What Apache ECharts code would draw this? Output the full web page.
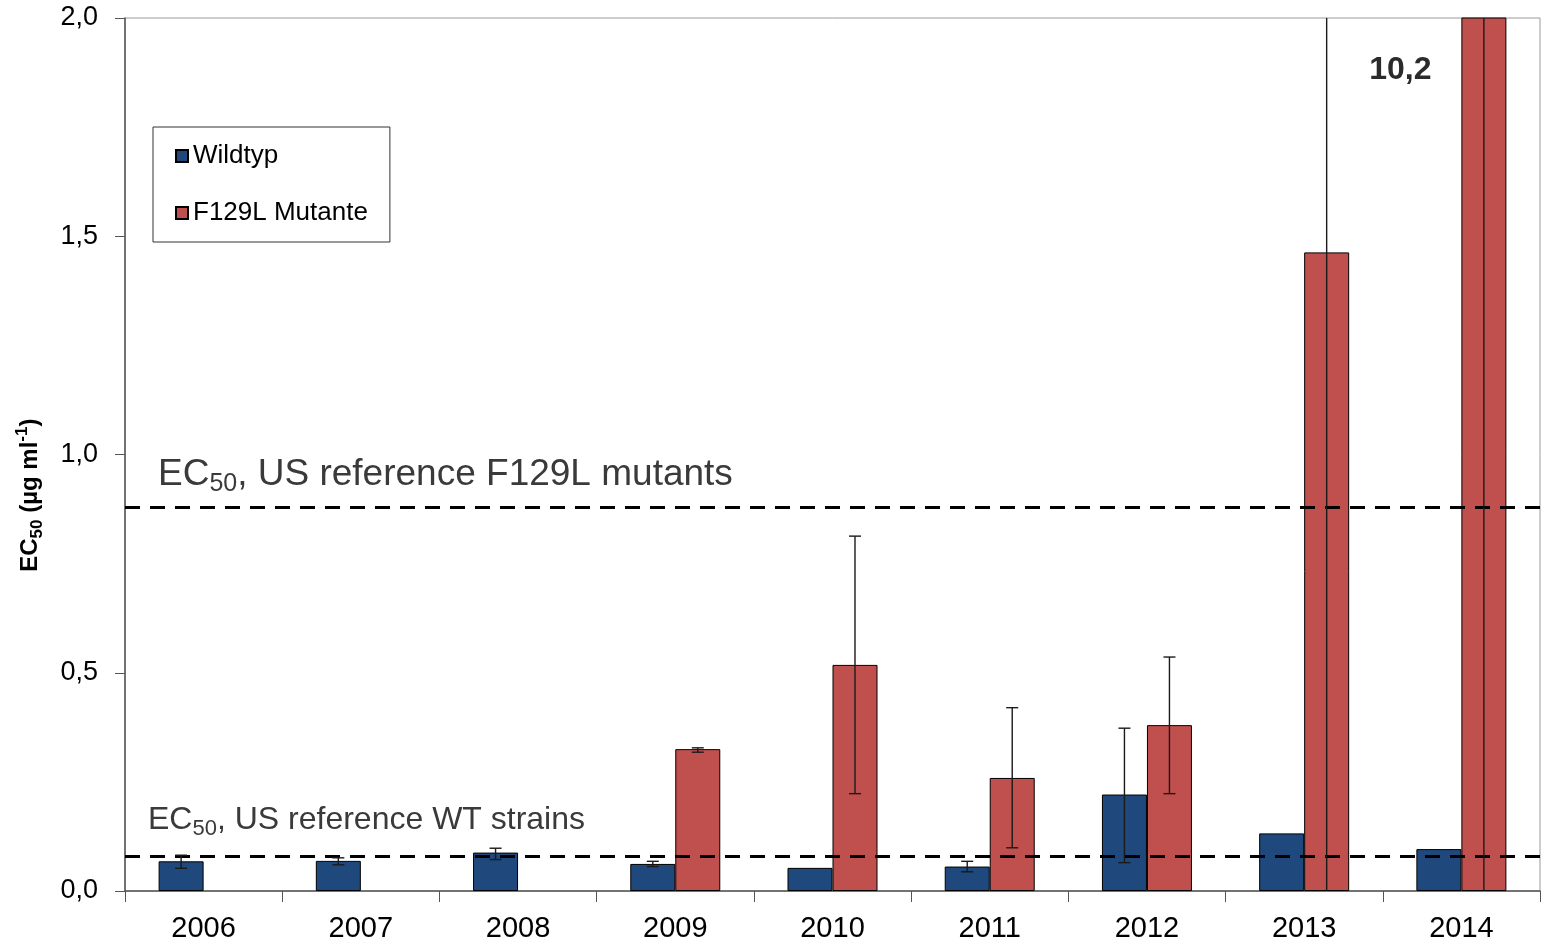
<!DOCTYPE html>
<html>
<head>
<meta charset="utf-8">
<script src="https://cdn.jsdelivr.net/npm/echarts@6/dist/echarts.min.js"></script>
<style>
html,body{margin:0;padding:0;background:#fff;}
#chart{width:1545px;height:941px;}
</style>
</head>
<body>
<div id="chart"></div>
<script>
// ---- data ----
var years = ['2006','2007','2008','2009','2010','2011','2012','2013','2014'];
var wildtyp = [0.068, 0.069, 0.088, 0.062, 0.053, 0.056, 0.221, 0.132, 0.096];
var wildtypLow = [0.052, 0.060, 0.072, 0.056, null, 0.044, 0.065, null, null];
var wildtypHigh = [0.082, 0.076, 0.098, 0.068, null, 0.068, 0.373, null, null];
var mutante = [null, null, null, 0.325, 0.518, 0.259, 0.380, 1.463, 10.2];
var mutanteLow = [null, null, null, 0.318, 0.223, 0.099, 0.223, -1.2, -0.1];
var mutanteHigh = [null, null, null, 0.328, 0.813, 0.420, 0.536, 4.1, 20.3];
var refMutant = 0.88;
var refWT = 0.078;
var yTicks = [0, 0.5, 1.0, 1.5, 2.0];
var bigLabel = '10,2';

var BAR_W = 45;
var chart = echarts.init(document.getElementById('chart'));

function errSeries(name, low, high, offset) {
  var data = [];
  for (var i = 0; i < years.length; i++) {
    if (low[i] != null) data.push([i, low[i], high[i]]);
  }
  return {
    type: 'custom',
    name: name,
    silent: true,
    clip: true,
    z: 5,
    data: data,
    encode: {x: 0, y: [1, 2]},
    renderItem: function (params, api) {
      var i = api.value(0);
      var lo = api.coord([i, api.value(1)]);
      var hi = api.coord([i, api.value(2)]);
      var x = lo[0] + offset;
      var cap = 6;
      var st = {stroke: '#1a1a1a', lineWidth: 1.4};
      return {
        type: 'group',
        children: [
          {type: 'line', shape: {x1: x, y1: lo[1], x2: x, y2: hi[1]}, style: st},
          {type: 'line', shape: {x1: x - cap, y1: lo[1], x2: x + cap, y2: lo[1]}, style: st},
          {type: 'line', shape: {x1: x - cap, y1: hi[1], x2: x + cap, y2: hi[1]}, style: st}
        ]
      };
    }
  };
}

var option = {
  animation: false,
  backgroundColor: '#fff',
  grid: {left: 125, right: 5, top: 18, bottom: 50, show: true, borderColor: '#9a9a9a', borderWidth: 1, outerBoundsMode: 'none', containLabel: false},
  legend: {
    orient: 'vertical',
    left: 153,
    top: 127,
    padding: [16, 22, 16, 22],
    itemGap: 31,
    itemWidth: 12,
    itemHeight: 12,
    borderColor: '#333',
    borderWidth: 1,
    icon: 'rect',
    textStyle: {fontFamily: 'Liberation Sans, Arial, sans-serif', fontSize: 26, color: '#000'},
    data: ['Wildtyp', 'F129L Mutante']
  },
  xAxis: {
    type: 'category',
    data: years,
    boundaryGap: true,
    axisLine: {lineStyle: {color: '#555', width: 1.5}},
    axisTick: {show: true, length: 11, lineStyle: {color: '#555'}},
    axisLabel: {fontFamily: 'Liberation Sans, Arial, sans-serif', fontSize: 29, color: '#000', margin: 23},
    splitLine: {show: false}
  },
  yAxis: {
    type: 'value',
    min: 0,
    max: 2,
    interval: 0.5,
    axisLine: {show: true, lineStyle: {color: '#555', width: 1.5}},
    axisTick: {show: true, length: 10, lineStyle: {color: '#555'}},
    axisLabel: {
      fontFamily: 'Liberation Sans, Arial, sans-serif', fontSize: 27, color: '#000', margin: 27,
      formatter: function (v) {
        for (var k = 0; k < yTicks.length; k++) {
          if (Math.abs(yTicks[k] - v) < 1e-9) return yTicks[k].toFixed(1).replace('.', ',');
        }
        return '';
      }
    },
    splitLine: {show: false}
  },
  series: [
    {
      name: 'Wildtyp',
      type: 'bar',
      data: wildtyp,
      barWidth: BAR_W,
      barGap: '0%',
      itemStyle: {color: '#1F497D', borderColor: '#000', borderWidth: 1},
      markLine: {
        silent: true,
        symbol: ['none', 'none'],
        lineStyle: {color: '#000', width: 3, type: [15, 10]},
        label: {
          show: true,
          position: 'insideStartTop',
          fontFamily: 'Liberation Sans, Arial, sans-serif'
        },
        data: [
          {
            yAxis: refMutant,
            label: {
              distance: [33, 10],
              formatter: '{a|EC}{s|50}{a|, US reference F129L mutants}',
              rich: {
                a: {fontSize: 37, color: '#3a3a3a', lineHeight: 44, verticalAlign: 'middle', fontFamily: 'Liberation Sans, Arial, sans-serif'},
                s: {fontSize: 25, color: '#3a3a3a', lineHeight: 24, verticalAlign: 'bottom', fontFamily: 'Liberation Sans, Arial, sans-serif'}
              }
            }
          },
          {
            yAxis: refWT,
            label: {
              distance: [23, 16],
              formatter: '{a|EC}{s|50}{a|, US reference WT strains}',
              rich: {
                a: {fontSize: 32, color: '#3a3a3a', lineHeight: 40, verticalAlign: 'middle', fontFamily: 'Liberation Sans, Arial, sans-serif'},
                s: {fontSize: 22, color: '#3a3a3a', lineHeight: 22, verticalAlign: 'bottom', fontFamily: 'Liberation Sans, Arial, sans-serif'}
              }
            }
          }
        ]
      }
    },
    {
      name: 'F129L Mutante',
      type: 'bar',
      data: mutante,
      barWidth: BAR_W,
      barGap: '0%',
      itemStyle: {color: '#C0504D', borderColor: '#000', borderWidth: 1}
    },
    errSeries('errW', wildtypLow, wildtypHigh, -BAR_W / 2),
    errSeries('errM', mutanteLow, mutanteHigh, BAR_W / 2)
  ]
};
chart.setOption(option);

// annotations anchored through the axes
var p = chart.convertToPixel({gridIndex: 0}, [8, 1.88]);
var yMid = chart.convertToPixel({gridIndex: 0}, [0, 0.9]);
chart.setOption({
  graphic: [
    {
      type: 'text',
      x: p[0] - 61,
      y: p[1],
      style: {
        text: bigLabel,
        fontFamily: 'Liberation Sans, Arial, sans-serif',
        fontWeight: 'bold',
        fontSize: 32,
        fill: '#2b2b2b',
        align: 'center',
        verticalAlign: 'middle'
      }
    },
    {
      type: 'text',
      x: 30,
      y: yMid[1] - 3,
      rotation: Math.PI / 2,
      style: {
        text: '{a|EC}{s|50}{a| (µg ml}{u|-1}{a|)}',
        align: 'center',
        verticalAlign: 'middle',
        rich: {
          a: {fontSize: 24, fontWeight: 'bold', fill: '#000', lineHeight: 32, verticalAlign: 'middle', fontFamily: 'Liberation Sans, Arial, sans-serif'},
          s: {fontSize: 17, fontWeight: 'bold', fill: '#000', lineHeight: 17, verticalAlign: 'bottom', fontFamily: 'Liberation Sans, Arial, sans-serif'},
          u: {fontSize: 17, fontWeight: 'bold', fill: '#000', lineHeight: 17, verticalAlign: 'top', fontFamily: 'Liberation Sans, Arial, sans-serif'}
        }
      }
    }
  ]
});
</script>
</body>
</html>
